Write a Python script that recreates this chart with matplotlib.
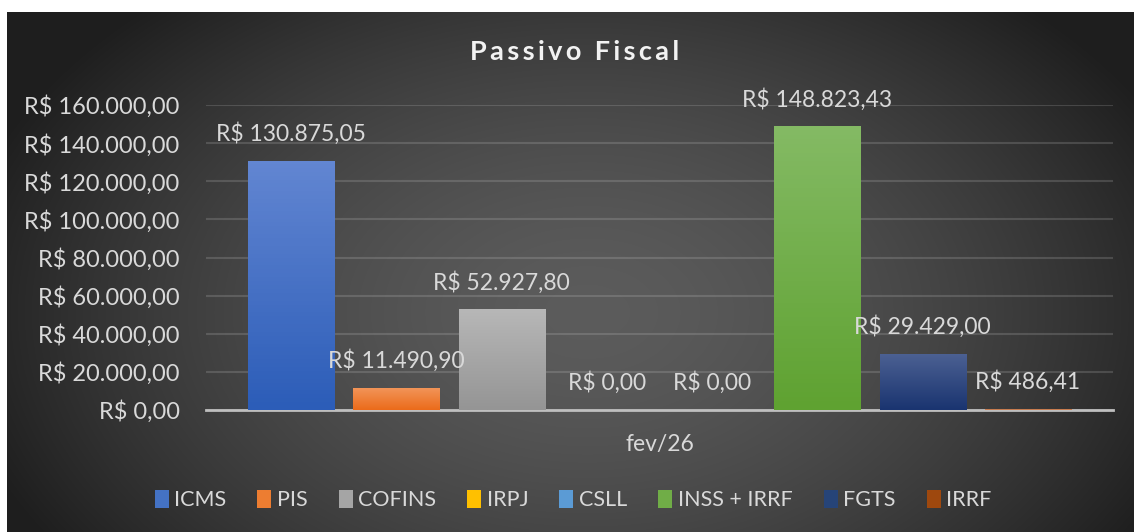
import numpy as np
import matplotlib.pyplot as plt
from matplotlib.patches import Patch
from matplotlib.colors import to_rgb

plt.rcParams['font.family'] = ['Lato', 'DejaVu Sans']

categorias = ['ICMS', 'PIS', 'COFINS', 'IRPJ', 'CSLL', 'INSS + IRRF', 'FGTS', 'IRRF']
valores = [130875.05, 11490.90, 52927.80, 0.0, 0.0, 148823.43, 29429.00, 486.41]
cores = ['#4472c4', '#ed7d31', '#a5a5a5', '#ffc000', '#5b9bd5', '#70ad47', '#264478', '#9e480e']
cores_topo = ['#6286d2', '#f29458', '#b7b7b7', '#ffd04d', '#7db1e0', '#84ba64', '#4c6193', '#d08a60']
cores_base = ['#2c5db8', '#eb6b1a', '#959595', '#f0b000', '#4a8ccc', '#5fa231', '#1a3470', '#c07040']
yticks = [0, 20000, 40000, 60000, 80000, 100000, 120000, 140000, 160000]
periodo = 'fev/26'
titulo = 'Passivo Fiscal'


def brl(v):
    s = f'{v:,.2f}'.replace(',', 'X').replace('.', ',').replace('X', '.')
    return 'R$ ' + s


W, H = 1134, 532
fig = plt.figure(figsize=(W / 100, H / 100), dpi=100)
fig.patch.set_facecolor('white')

# fundo com gradiente radial
bg = fig.add_axes([7 / W, 0, 1 - 7 / W, (H - 12) / H], zorder=-5)
yy, xx = np.mgrid[0:520, 0:1127]
r = np.sqrt(((xx - 580) / 640) ** 2 + ((yy - 300) / 420) ** 2)
r = np.clip(r, 0, 1) ** 1.6
img = 0.36 - (0.36 - 0.12) * r
bg.imshow(np.dstack([img, img, img]), aspect='auto', extent=[0, 1, 0, 1])
bg.axis('off')

ax = fig.add_axes([206 / W, (H - 410) / H, (1113 - 206) / W, (410 - 105) / H])
ax.set_facecolor('none')
x = np.arange(len(categorias))
largura = 0.817
barras = ax.bar(x, valores, width=largura, color=cores, zorder=3)

# gradiente vertical em cada barra
for b, ct, cb in zip(barras, cores_topo, cores_base):
    h = b.get_height()
    if h <= 0:
        continue
    t = np.array(to_rgb(ct))
    bo = np.array(to_rgb(cb))
    grad = np.linspace(0, 1, 64)[:, None]
    col = t[None, :] * (1 - grad) + bo[None, :] * grad
    im = ax.imshow(col[:, None, :], aspect='auto', zorder=4,
                   extent=[b.get_x(), b.get_x() + b.get_width(), 0, h])
    im.set_clip_path(b)

for xi, v in zip(x, valores):
    ax.annotate(brl(v), (xi, v), xytext=(0, 19.5), textcoords='offset points',
                ha='center', va='center', fontsize=16.5, color='#d9d9d9', zorder=6,
                annotation_clip=False)

ax.set_xlim(-0.807, 7.807)
ax.set_ylim(0, 160000)
ax.set_yticks(yticks)
ax.set_yticklabels([brl(v) for v in yticks], fontsize=17, color='#d9d9d9')
ax.set_xticks([])
ax.tick_params(axis='y', length=0, pad=19)
ax.grid(axis='y', color='#d9d9d9', alpha=0.18, linewidth=1.5, zorder=0)
for s in ['top', 'right', 'left']:
    ax.spines[s].set_visible(False)
ax.spines['bottom'].set_color('#bfbfbf')
ax.spines['bottom'].set_linewidth(2)
ax.spines['bottom'].set_zorder(2.5)

fig.text(660 / W, (H - 445) / H, periodo, ha='center', va='center',
         fontsize=16.5, color='#d9d9d9')
fig.text(575 / W, (H - 52) / H, '\u2009'.join(titulo), ha='center', va='center',
         fontsize=19.5, fontweight='bold', color='#f2f2f2')

handles = [Patch(facecolor=c, edgecolor='none') for c in cores]
fig.legend(handles, categorias, loc='center', bbox_to_anchor=(573 / W, (H - 500) / H),
           ncol=8, frameon=False, fontsize=15.5, labelcolor='#d9d9d9',
           handlelength=0.65, handleheight=0.9, handletextpad=0.25, columnspacing=1.45)

fig.savefig('out.png', dpi=100)
